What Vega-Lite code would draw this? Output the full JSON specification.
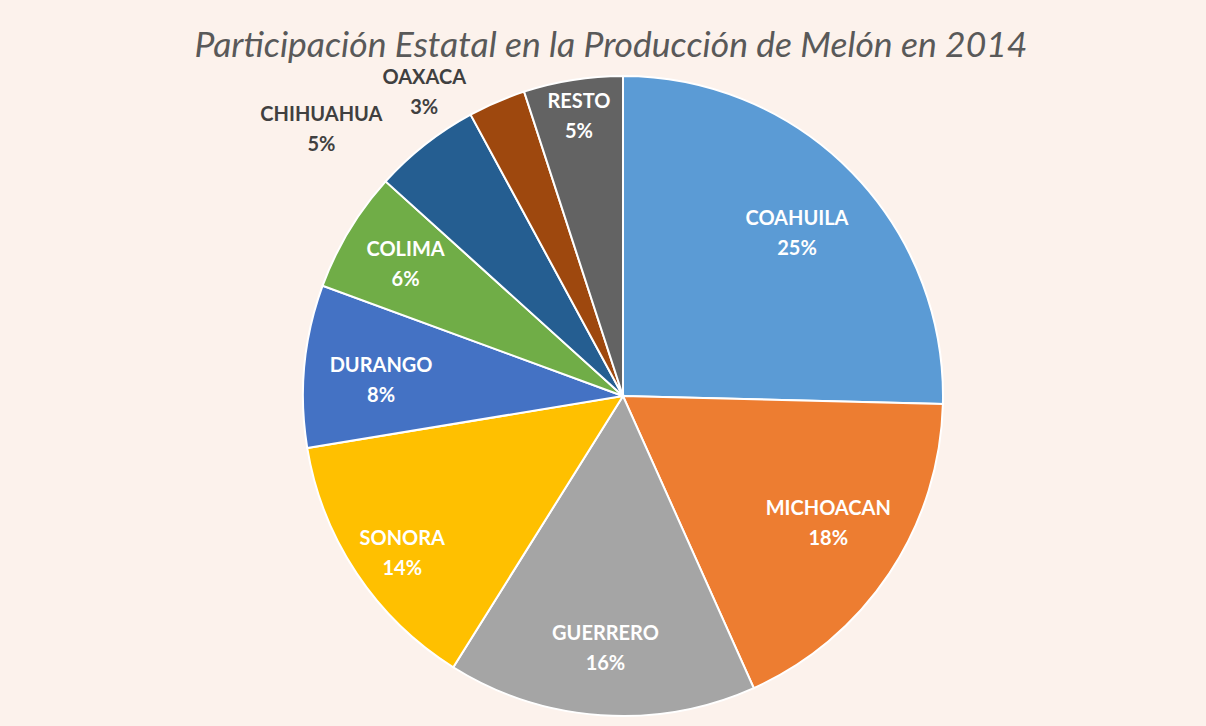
{
  "$schema": "https://vega.github.io/schema/vega-lite/v6.json",
  "width": 1166,
  "height": 660,
  "autosize": "none",
  "padding": {"left": 40, "right": 0, "top": 66, "bottom": 0},
  "background": "#FCF2EC",
  "config": {"view": {"stroke": null}},
  "title": {
    "text": "Participación Estatal en la Producción de Melón en 2014",
    "font": "Lato",
    "fontSize": 35.5,
    "fontStyle": "italic",
    "fontWeight": "normal",
    "color": "#595959",
    "anchor": "middle",
    "frame": "group",
    "offset": 2,
    "dx": -12
  },
  "data": {
    "values": [
      {"estado": "COAHUILA", "pct": 25.4, "orden": 1, "etiqueta": "COAHUILA\n25%"},
      {"estado": "MICHOACAN", "pct": 17.9, "orden": 2, "etiqueta": "MICHOACAN\n18%"},
      {"estado": "GUERRERO", "pct": 15.6, "orden": 3, "etiqueta": "GUERRERO\n16%"},
      {"estado": "SONORA", "pct": 13.5, "orden": 4, "etiqueta": "SONORA\n14%"},
      {"estado": "DURANGO", "pct": 8.2, "orden": 5, "etiqueta": "DURANGO\n8%"},
      {"estado": "COLIMA", "pct": 6.1, "orden": 6, "etiqueta": "COLIMA\n6%"},
      {"estado": "CHIHUAHUA", "pct": 5.4, "orden": 7, "etiqueta": "CHIHUAHUA\n5%"},
      {"estado": "OAXACA", "pct": 2.9, "orden": 8, "etiqueta": "OAXACA\n3%"},
      {"estado": "RESTO", "pct": 5.0, "orden": 9, "etiqueta": "RESTO\n5%"}
    ]
  },
  "layer": [
    {
      "mark": {"type": "arc", "outerRadius": 320, "stroke": "white", "strokeWidth": 2},
      "encoding": {
        "theta": {"field": "pct", "type": "quantitative", "stack": true, "scale": {"domain": [0, 100]}},
        "order": {"field": "orden", "type": "quantitative"},
        "color": {
          "field": "estado",
          "type": "nominal",
          "legend": null,
          "scale": {
            "domain": ["COAHUILA", "MICHOACAN", "GUERRERO", "SONORA", "DURANGO", "COLIMA", "CHIHUAHUA", "OAXACA", "RESTO"],
            "range": ["#5B9BD5", "#ED7D31", "#A5A5A5", "#FFC000", "#4472C4", "#70AD47", "#255E91", "#9E480E", "#636363"]
          }
        }
      }
    },
    {
      "mark": {"type": "text", "radius": 243, "dy": -7, "font": "Lato", "fontSize": 20, "fontWeight": "bold", "lineBreak": "\n", "lineHeight": 30, "align": "center", "baseline": "middle", "fill": "white"},
      "encoding": {
        "theta": {"field": "pct", "type": "quantitative", "stack": true, "scale": {"domain": [0, 100]}},
        "order": {"field": "orden", "type": "quantitative"},
        "text": {
          "condition": {"test": "indexof(['COAHUILA','DURANGO'], datum.estado) < 0", "value": ""},
          "field": "etiqueta", "type": "nominal"
        }
      }
    },
    {
      "mark": {"type": "text", "radius": 243, "dy": -22, "dx": 3, "font": "Lato", "fontSize": 20, "fontWeight": "bold", "lineBreak": "\n", "lineHeight": 30, "align": "center", "baseline": "middle", "fill": "white"},
      "encoding": {
        "theta": {"field": "pct", "type": "quantitative", "stack": true, "scale": {"domain": [0, 100]}},
        "order": {"field": "orden", "type": "quantitative"},
        "text": {
          "condition": {"test": "datum.estado !== 'MICHOACAN'", "value": ""},
          "field": "etiqueta", "type": "nominal"
        }
      }
    },
    {
      "mark": {"type": "text", "radius": 254, "dy": -15, "font": "Lato", "fontSize": 20, "fontWeight": "bold", "lineBreak": "\n", "lineHeight": 30, "align": "center", "baseline": "middle", "fill": "white"},
      "encoding": {
        "theta": {"field": "pct", "type": "quantitative", "stack": true, "scale": {"domain": [0, 100]}},
        "order": {"field": "orden", "type": "quantitative"},
        "text": {
          "condition": {"test": "indexof(['GUERRERO','COLIMA'], datum.estado) < 0", "value": ""},
          "field": "etiqueta", "type": "nominal"
        }
      }
    },
    {
      "mark": {"type": "text", "radius": 270, "dy": -7, "dx": 4, "font": "Lato", "fontSize": 20, "fontWeight": "bold", "lineBreak": "\n", "lineHeight": 30, "align": "center", "baseline": "middle", "fill": "white"},
      "encoding": {
        "theta": {"field": "pct", "type": "quantitative", "stack": true, "scale": {"domain": [0, 100]}},
        "order": {"field": "orden", "type": "quantitative"},
        "text": {
          "condition": {"test": "datum.estado !== 'SONORA'", "value": ""},
          "field": "etiqueta", "type": "nominal"
        }
      }
    },
    {
      "mark": {"type": "text", "radius": 282, "dy": -15, "font": "Lato", "fontSize": 20, "fontWeight": "bold", "lineBreak": "\n", "lineHeight": 30, "align": "center", "baseline": "middle", "fill": "white"},
      "encoding": {
        "theta": {"field": "pct", "type": "quantitative", "stack": true, "scale": {"domain": [0, 100]}},
        "order": {"field": "orden", "type": "quantitative"},
        "text": {
          "condition": {"test": "datum.estado !== 'RESTO'", "value": ""},
          "field": "etiqueta", "type": "nominal"
        }
      }
    },
    {
      "transform": [
        {"window": [{"op": "sum", "field": "pct", "as": "acum"}], "sort": [{"field": "orden", "order": "ascending"}]},
        {"filter": "datum.estado === 'CHIHUAHUA'"}
      ],
      "mark": {"type": "text", "radius": 402, "thetaOffset": -0.352, "dy": -15, "font": "Lato", "fontSize": 20, "fontWeight": "bold", "lineBreak": "\n", "lineHeight": 30, "align": "center", "baseline": "middle", "fill": "#404040"},
      "encoding": {
        "theta": {"field": "acum", "type": "quantitative", "stack": null, "scale": {"domain": [0, 100]}},
        "text": {"field": "etiqueta", "type": "nominal"}
      }
    },
    {
      "transform": [
        {"window": [{"op": "sum", "field": "pct", "as": "acum"}], "sort": [{"field": "orden", "order": "ascending"}]},
        {"filter": "datum.estado === 'OAXACA'"}
      ],
      "mark": {"type": "text", "radius": 362, "thetaOffset": -0.267, "dy": -15, "font": "Lato", "fontSize": 20, "fontWeight": "bold", "lineBreak": "\n", "lineHeight": 30, "align": "center", "baseline": "middle", "fill": "#404040"},
      "encoding": {
        "theta": {"field": "acum", "type": "quantitative", "stack": null, "scale": {"domain": [0, 100]}},
        "text": {"field": "etiqueta", "type": "nominal"}
      }
    }
  ]
}
